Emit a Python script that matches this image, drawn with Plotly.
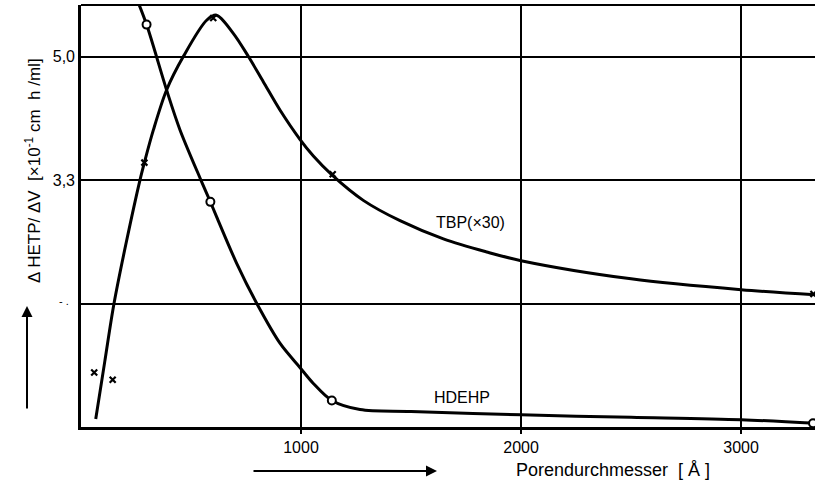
import plotly.graph_objects as go

# TBP (x30) fitted curve
tbp_curve_x = [67, 108, 150, 207, 268, 288, 329, 389, 465, 571, 616, 692, 761, 829, 905, 995, 1056, 1144, 1283, 1450, 1647, 1844, 2000, 2500, 3000, 3336]
tbp_curve_y = [0.01, 0.80, 1.60, 2.46, 3.30, 3.54, 3.99, 4.54, 5.00, 5.50, 5.57, 5.32, 5.00, 4.65, 4.26, 3.86, 3.63, 3.36, 3.02, 2.74, 2.49, 2.31, 2.19, 1.94, 1.79, 1.72]
# TBP measured points
tbp_pts_x = [60, 144, 288, 601, 1144, 3329]
tbp_pts_y = [0.65, 0.55, 3.54, 5.53, 3.38, 1.73]

# HDEHP fitted curve
hd_curve_x = [250, 298, 389, 450, 545, 588, 617, 708, 799, 905, 995, 1056, 1140, 1268, 1500, 2000, 2500, 3000, 3336]
hd_curve_y = [5.82, 5.44, 4.54, 3.99, 3.30, 3.00, 2.79, 2.15, 1.60, 1.05, 0.72, 0.50, 0.265, 0.14, 0.115, 0.067, 0.034, 0.0, -0.05]
# HDEHP measured points
hd_pts_x = [298, 588, 1140, 3327]
hd_pts_y = [5.44, 3.00, 0.265, -0.048]

x_ticks = [1000, 2000, 3000]
y_ticks = [5.0, 3.3, 1.6]
y_ticktext = ["5,0", "3,3", ""]

FONT = "Liberation Sans, Arial, sans-serif"

fig = go.Figure()
fig.add_trace(go.Scatter(x=tbp_curve_x, y=tbp_curve_y, mode="lines",
                         line=dict(color="black", width=3, shape="spline", smoothing=0.9),
                         hoverinfo="skip"))
fig.add_trace(go.Scatter(x=hd_curve_x, y=hd_curve_y, mode="lines",
                         line=dict(color="black", width=3, shape="spline", smoothing=0.9),
                         hoverinfo="skip"))
fig.add_trace(go.Scatter(x=tbp_pts_x, y=tbp_pts_y, mode="markers",
                         marker=dict(symbol="x-thin", size=6, line=dict(color="black", width=2.2), color="black")))
fig.add_trace(go.Scatter(x=hd_pts_x, y=hd_pts_y, mode="markers",
                         marker=dict(symbol="circle", size=8, color="white", line=dict(color="black", width=2))))

fig.update_layout(
    width=815, height=480,
    margin=dict(l=81, r=0, t=5, b=53),
    plot_bgcolor="white", paper_bgcolor="white",
    showlegend=False,
    font=dict(family=FONT, size=14, color="black"),
    xaxis=dict(range=[0, 3336], tickvals=x_ticks, ticktext=[str(v) for v in x_ticks],
               showgrid=True, gridcolor="black", gridwidth=1.6,
               showline=True, linecolor="black", linewidth=2.6,
               ticks="outside", ticklen=4, tickcolor="black", tickwidth=1.5,
               zeroline=False, automargin=False, tickfont=dict(size=16, family=FONT)),
    yaxis=dict(range=[-0.1, 5.71], tickvals=y_ticks, ticktext=y_ticktext,
               showgrid=True, gridcolor="black", gridwidth=1.6,
               showline=True, linecolor="black", linewidth=2.6,
               ticks="", zeroline=False, automargin=False, tickfont=dict(size=16, family=FONT)),
)

# top border
fig.add_shape(type="line", xref="paper", yref="paper", x0=0, x1=1, y0=1, y1=1,
              line=dict(color="black", width=2.2))

# curve labels
fig.add_annotation(x=1768, y=2.71, text="TBP(×30)", showarrow=False,
                   font=dict(size=16, family=FONT))
fig.add_annotation(x=1730, y=0.31, text="HDEHP", showarrow=False,
                   font=dict(size=16, family=FONT))

# axis titles
fig.add_annotation(xref="paper", yref="paper", x=(613 - 81) / 734, y=-(470 - 427) / 422,
                   xanchor="center", yanchor="middle",
                   text="Porendurchmesser  [ Å ]", showarrow=False,
                   font=dict(size=18, family=FONT))
fig.add_annotation(xref="paper", yref="paper", x=-(81 - 33) / 734, y=(427 - 171) / 422,
                   xanchor="center", yanchor="middle",
                   text="Δ HETP/ ΔV  [×10<sup>-1</sup> cm  h /ml]", showarrow=False, textangle=-90,
                   font=dict(size=17, family=FONT))
fig.add_annotation(xref="paper", yref="paper", x=-(81 - 64) / 734, y=(427 - 301) / 422,
                   xanchor="center", yanchor="middle",
                   text="- .", showarrow=False, font=dict(size=11, family=FONT))

# arrows
fig.add_annotation(xref="paper", yref="paper", axref="pixel", ayref="pixel",
                   x=(437 - 81) / 734, y=-(471 - 427) / 422,
                   ax=-185, ay=0,
                   text="", showarrow=True, arrowhead=2, arrowsize=1.1, arrowwidth=2, arrowcolor="black")
fig.add_annotation(xref="paper", yref="paper", axref="pixel", ayref="pixel",
                   x=-(81 - 27) / 734, y=(427 - 306) / 422,
                   ax=0, ay=104,
                   text="", showarrow=True, arrowhead=2, arrowsize=1.1, arrowwidth=2, arrowcolor="black")

fig.write_html("out.html", config={"displayModeBar": False},
               post_script="document.body.style.margin='0';document.body.style.overflow='hidden';")
